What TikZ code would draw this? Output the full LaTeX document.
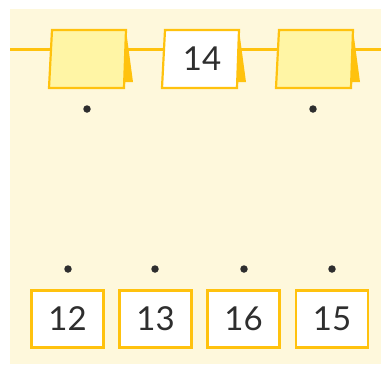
\documentclass[tikz,border=0pt]{standalone}
\usepackage{fontspec}
\setmainfont{Lato}
\definecolor{bgc}{HTML}{FEF8DC}
\definecolor{gold}{HTML}{FFC20E}
\definecolor{cardc}{HTML}{FFF5A5}
\definecolor{txt}{HTML}{2E2E2E}
\tikzset{
  numbox/.style={draw=gold,line width=2.2pt,fill=white,minimum width=72pt,minimum height=57pt,inner sep=0pt,font=\fontsize{33}{33}\selectfont,text=txt},
  dotnode/.style={circle,fill=txt,inner sep=0pt,minimum size=7.5pt},
  cardline/.style={draw=gold,line width=2.2pt,line join=miter},
  flap/.style={fill=gold},
  cardtext/.style={font=\fontsize{33}{33}\selectfont,text=txt,inner sep=0pt}
}
\begin{document}
\begin{tikzpicture}[x=1pt,y=-1pt]
\useasboundingbox (0,0) rectangle (381,365);
\fill[bgc] (10,9) rectangle (381,364);
\coordinate (L) at (10,49);
\coordinate (R) at (381,49);
\draw[gold,line width=3pt] (L) -- (R);
% cards
\foreach \x/\f/\n in {49/cardc/c1,162/white/c2,276/cardc/c3}{
  \fill[gold] (\x+75,32) -- (\x+77,30) -- (\x+84,82) -- (\x+75,82) -- cycle;
  \draw[cardline,fill=\f] (\x+3,30) -- (\x+77,30) -- (\x+75,88) -- (\x,88) -- cycle;
}
\node[cardtext] (t14) at (202,59) {14};
\node[dotnode] (d1) at (87,109) {};
\node[dotnode] (d2) at (313,109) {};
\node[dotnode] (d3) at (68,269) {};
\node[dotnode] (d4) at (155,269) {};
\node[dotnode] (d5) at (244,269) {};
\node[dotnode] (d6) at (332,269) {};
\node[numbox] (b1) at (67.5,319) {12};
\node[numbox] (b2) at (155.5,319) {13};
\node[numbox] (b3) at (243.5,319) {16};
\node[numbox] (b4) at (332,319) {15};
\end{tikzpicture}
\end{document}
